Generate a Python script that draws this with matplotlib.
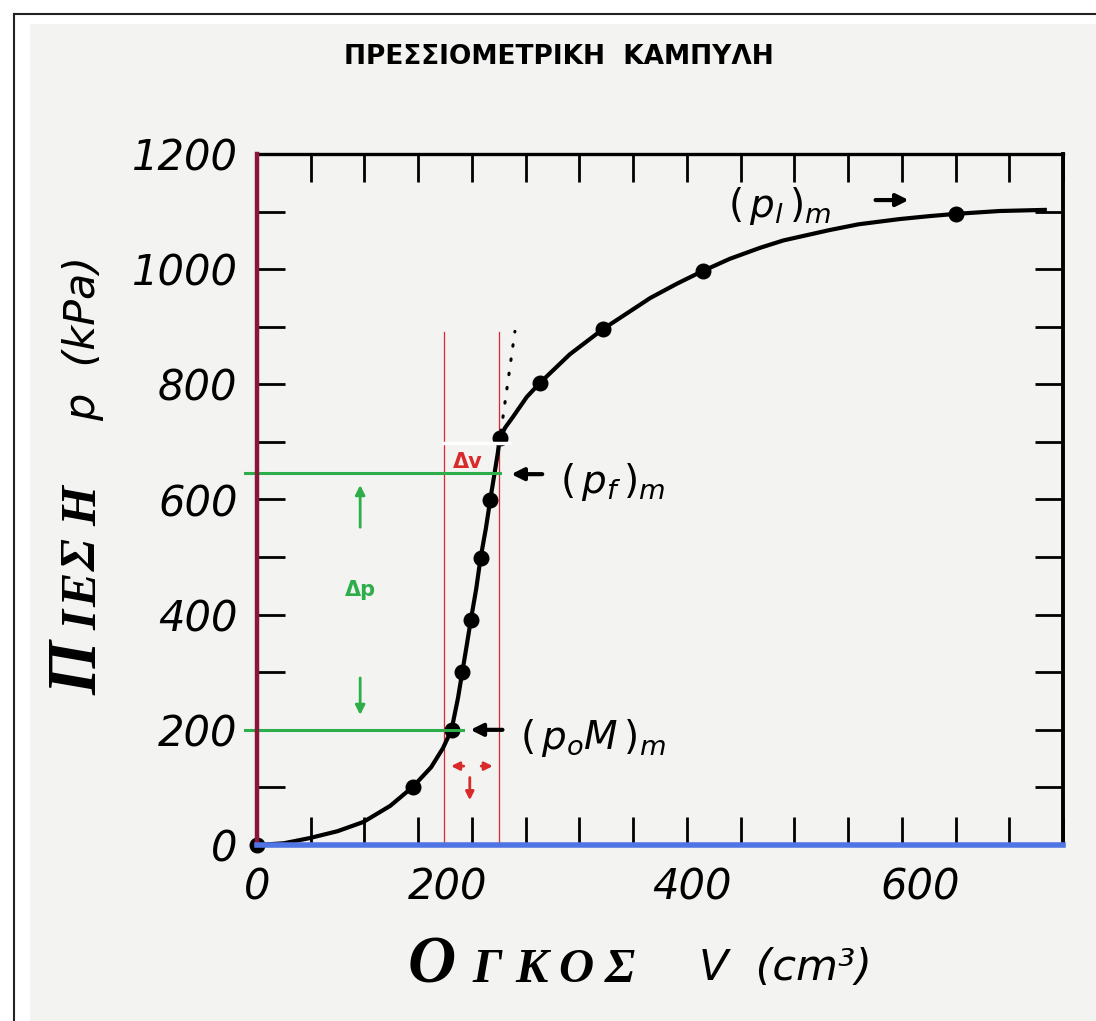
import matplotlib
matplotlib.use('Agg')
import matplotlib.pyplot as plt
from matplotlib.patches import Rectangle
from matplotlib.lines import Line2D
from matplotlib import font_manager as fm

# ---------------- data ----------------
curve_v = [0, 25, 49, 75, 99, 124, 145, 162, 173, 181, 187, 191, 195, 199, 204, 208, 213, 217,
           221, 224, 226, 231, 238, 251, 263, 291, 322, 366, 391, 415, 440, 468, 490, 533, 560,
           598, 625, 650, 691, 735]
curve_p = [0, 3, 12, 24, 40, 68, 101, 135, 168, 200, 255, 300, 345, 391, 445, 498, 550, 599,
           645, 680, 707, 725, 743, 778, 802, 852, 896, 950, 975, 997, 1018, 1037, 1050, 1068, 1078,
           1087, 1092, 1096, 1101, 1103]

point_v = [0, 145, 181, 191, 199, 208, 217, 226, 263, 322, 415, 650]
point_p = [0, 101, 200, 300, 391, 498, 599, 707, 802, 896, 997, 1096]

tangent_v = [227, 240]
tangent_p = [718, 892]

p0M = 200      # (p_oM)_m
pf = 646       # (p_f)_m
dv_lines = [174, 225]
dv_top = 891

xtick_labels = ['0', '200', '400', '600']
xtick_label_pos = [0, 177, 405, 617]
ytick_values = [0, 200, 400, 600, 800, 1000, 1200]
ytick_labels = ['0', '200', '400', '600', '800', '1000', '1200']

title = 'ΠΡΕΣΣΙΟΜΕΤΡΙΚΗ  ΚΑΜΠΥΛΗ'

# ---------------- helpers ----------------
W, H = 1096, 1021
def fx(x):
    return x / W
def fy(y):
    return 1 - y / H

def has_font(name):
    try:
        fm.findfont(fm.FontProperties(family=name), fallback_to_default=False)
        return True
    except Exception:
        return False

title_font = 'Liberation Sans Narrow' if has_font('Liberation Sans Narrow') else 'DejaVu Sans'
serif_font = 'Liberation Serif' if has_font('Liberation Serif') else 'DejaVu Serif'

plt.rcParams['mathtext.fontset'] = 'dejavusans'

MAROON = '#8a1538'
BLUE = '#4f74e3'
GREEN = '#2eae4b'
RED = '#d92a2a'
BG = '#f3f3f1'

fig = plt.figure(figsize=(W / 100, H / 100), dpi=100, facecolor='white')

# scanned page background and border
fig.patches.append(Rectangle((fx(30), 0), 1, fy(24), transform=fig.transFigure,
                             facecolor=BG, edgecolor='none', zorder=-10))
fig.lines.append(Line2D([fx(14), 1], [fy(14), fy(14)], transform=fig.transFigure,
                        color='#222222', lw=1.5, zorder=-5))
fig.lines.append(Line2D([fx(14), fx(14)], [fy(14), 0], transform=fig.transFigure,
                        color='#222222', lw=1.5, zorder=-5))

ax = fig.add_axes([fx(257), fy(845), fx(1063) - fx(257), fy(154) - fy(845)])
ax.set_zorder(5)
ax.set_facecolor('none')
ax.set_xlim(0, 750)
ax.set_ylim(0, 1200)

# spines
ax.spines['left'].set_color(MAROON)
ax.spines['left'].set_linewidth(3.2)
ax.spines['bottom'].set_color(BLUE)
ax.spines['bottom'].set_linewidth(4.0)
ax.spines['top'].set_color('black')
ax.spines['top'].set_linewidth(2.4)
ax.spines['right'].set_color('black')
ax.spines['right'].set_linewidth(2.8)
ax.spines['left'].set_zorder(6)
ax.spines['bottom'].set_zorder(6)

# ticks
ax.set_xticks(range(0, 751, 50))
ax.set_xticklabels([])
ax.set_yticks(ytick_values)
ax.set_yticklabels(ytick_labels)
ax.set_yticks(range(100, 1200, 200), minor=True)
ax.tick_params(which='both', direction='in', length=20, width=2.0, color='black',
               top=True, right=True, bottom=True, left=True)
ax.tick_params(axis='y', which='major', pad=14, labelsize=30)
for lab in ax.get_yticklabels():
    lab.set_fontstyle('italic')

for s, v in zip(xtick_labels, xtick_label_pos):
    ax.text(v, -0.062, s, transform=ax.get_xaxis_transform(), ha='center', va='center',
            fontsize=30, fontstyle='italic', color='black')

# red Δv guide lines
for v in dv_lines:
    ax.plot([v, v], [0, dv_top], color=RED, lw=0.9, zorder=2)

# green Δp guide lines
ax.plot([-11, 226], [pf, pf], color=GREEN, lw=2.2, zorder=4, clip_on=False)
ax.plot([-11, 192], [p0M, p0M], color=GREEN, lw=2.2, zorder=4, clip_on=False)

# curve, points, tangent
ax.plot(curve_v, curve_p, color='black', lw=3.0, solid_joinstyle='round',
        solid_capstyle='butt', zorder=3)
ax.plot(point_v, point_p, 'o', color='black', ms=10.5, zorder=3, clip_on=False)
ax.plot(tangent_v, tangent_p, color='black', lw=2.2, linestyle=(0, (0.5, 4.2)),
        dash_capstyle='round', zorder=3)

# white scan stripe
ax.plot([172, 236], [698, 698], color='white', lw=2.5, zorder=3.5, solid_capstyle='butt')

# green arrows and Δp
arrow_g = dict(arrowstyle='-|>', color=GREEN, lw=2.0, mutation_scale=14)
ax.annotate('', xy=(96, 630), xytext=(96, 547), arrowprops=arrow_g)
ax.annotate('', xy=(96, 221), xytext=(96, 295), arrowprops=arrow_g)
ax.text(96, 443, 'Δp', color=GREEN, fontsize=15, fontweight='bold', ha='center', va='center')

# red arrows and Δv
arrow_r = dict(arrowstyle='-|>', color=RED, lw=2.0, mutation_scale=12)
ax.annotate('', xy=(178, 137), xytext=(195, 137), arrowprops=arrow_r)
ax.annotate('', xy=(222, 137), xytext=(206, 137), arrowprops=arrow_r)
ax.annotate('', xy=(198, 73), xytext=(198, 122), arrowprops=arrow_r)
ax.text(196, 665, 'Δv', color=RED, fontsize=15, fontweight='bold', ha='center', va='center')

# black annotations
arrow_k = dict(arrowstyle='-|>', color='black', lw=3.0, mutation_scale=18)
ax.annotate('', xy=(234, 644), xytext=(268, 644), arrowprops=arrow_k)
ax.text(282, 630, r'$(\,p_f\,)_m$', fontsize=28, ha='left', va='center')
ax.annotate('', xy=(196, 200), xytext=(231, 200), arrowprops=arrow_k)
ax.text(245, 186, r'$(\,p_oM\,)_m$', fontsize=28, ha='left', va='center')
ax.text(438, 1110, r'$(\,p_l\,)_m$', fontsize=28, ha='left', va='center')
ax.annotate('', xy=(609, 1120), xytext=(573, 1120), arrowprops=arrow_k)

# title
fig.text(fx(559), fy(57), title, ha='center', va='center', fontsize=19,
         fontweight='bold', family=title_font)

# y label: ΠΙΕΣΗ  p (kPa)
fig.text(fx(80), fy(668), 'Π', rotation=90, ha='center', va='center', fontsize=50,
         fontweight='bold', fontstyle='italic', family=serif_font)
for ch, yy in zip('ΙΕΣΗ', [620, 590, 555, 506]):
    fig.text(fx(84), fy(yy), ch, rotation=90, ha='center', va='center', fontsize=37,
             fontweight='bold', fontstyle='italic', family=serif_font)
fig.text(fx(83), fy(338), 'p  (kPa)', rotation=90, ha='center', va='center', fontsize=31,
         fontstyle='italic')

# x label: ΟΓΚΟΣ  V (cm³)
fig.text(fx(432), fy(966), 'Ο', ha='center', va='center', fontsize=48,
         fontweight='bold', fontstyle='italic', family=serif_font)
for ch, xx in zip('ΓΚΟΣ', [487, 532, 576, 620]):
    fig.text(fx(xx), fy(970), ch, ha='center', va='center', fontsize=35,
             fontweight='bold', fontstyle='italic', family=serif_font)
fig.text(fx(785), fy(968), 'V  (cm³)', ha='center', va='center', fontsize=31,
         fontstyle='italic')

fig.savefig('out.png', dpi=100, facecolor=fig.get_facecolor())
